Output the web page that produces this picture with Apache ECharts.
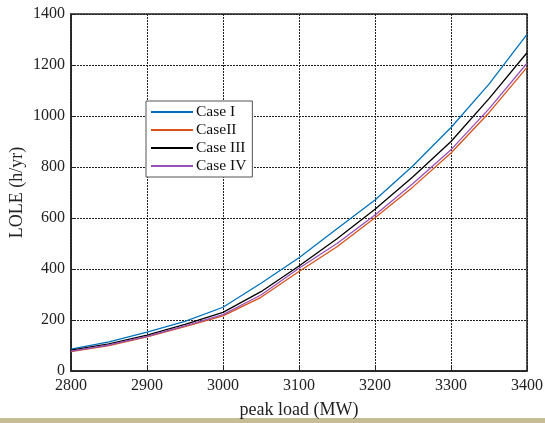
<!DOCTYPE html>
<html><head><meta charset="utf-8">
<script src="https://cdn.jsdelivr.net/npm/echarts@6/dist/echarts.min.js"></script>
<style>html,body{margin:0;padding:0;background:#fff}#c{width:545px;height:423px}</style>
</head><body><div id="c"></div>
<script>
const peakLoad = [2800,2850,2900,2950,3000,3050,3100,3150,3200,3250,3300,3350,3400];
const caseI   = [86,114,152,195,250,344,444,558,671,805,955,1125,1320];
const caseII  = [76,100,134,174,216,289,390,487,601,722,855,1013,1191];
const caseIII = [82,106,141,183,230,311,412,519,634,762,900,1068,1248];
const caseIV  = [78,102,136,177,221,298,403,500,612,735,868,1028,1207];
const seriesNames = ['Case I','CaseII','Case III','Case IV'];
const seriesColors = ['#0072BD','#D95319','#000000','#9B4FB8'];
const seriesData = [caseI, caseII, caseIII, caseIV];

const chart = echarts.init(document.getElementById('c'), null, {renderer:'canvas'});
const font = 'Liberation Serif';
const gridLine = {show:true, lineStyle:{color:'#222', width:1, type:[2,1]}};
chart.setOption({
  animation:false,
  backgroundColor:'#fff',
  textStyle:{fontFamily:font},
  grid:{left:71, right:18, top:14, bottom:52, show:true, borderColor:'#222', borderWidth:1.5, backgroundColor:'transparent', containLabel:false, outerBoundsMode:'none'},
  legend:{
    data:seriesNames, orient:'vertical', left:146, top:101,
    itemWidth:42, itemHeight:2, itemGap:2,
    backgroundColor:'#fff', borderColor:'#555', borderWidth:1,
    padding:[3,6,3,5],
    icon:'rect',
    textStyle:{fontFamily:font, fontSize:15.5, color:'#111', padding:[0,0,0,-2]}
  },
  xAxis:{
    type:'value', min:2800, max:3400, interval:100,
    name:'peak load (MW)', nameLocation:'middle', nameGap:30,
    nameTextStyle:{fontFamily:font, fontSize:18, color:'#222'},
    axisLine:{show:true, lineStyle:{color:'#222', width:1.5}},
    axisTick:{show:true, inside:true, length:4, lineStyle:{color:'#222'}},
    axisLabel:{fontFamily:font, fontSize:16, color:'#222', margin:7, formatter:v=>String(v)},
    splitLine:gridLine
  },
  yAxis:{
    type:'value', min:0, max:1400, interval:200,
    name:'LOLE (h/yr)', nameLocation:'middle', nameGap:45, nameMoveOverlap:false,
    nameTextStyle:{fontFamily:font, fontSize:18, color:'#222'},
    axisLine:{show:true, lineStyle:{color:'#222', width:1.5}},
    axisTick:{show:true, inside:true, length:4, lineStyle:{color:'#222'}},
    axisLabel:{fontFamily:font, fontSize:16, color:'#222', margin:6, formatter:v=>String(v)},
    splitLine:gridLine
  },
  graphic:[{type:'rect', shape:{x:0, y:418, width:545, height:5}, style:{fill:'#C6BC96'}, silent:true}],
  series: seriesNames.map((n,i)=>({
    name:n, type:'line', showSymbol:false, symbol:'none',
    data: peakLoad.map((x,j)=>[x, seriesData[i][j]]),
    lineStyle:{color:seriesColors[i], width:1.3},
    itemStyle:{color:seriesColors[i]},
    z: 3
  }))
});
</script></body></html>
